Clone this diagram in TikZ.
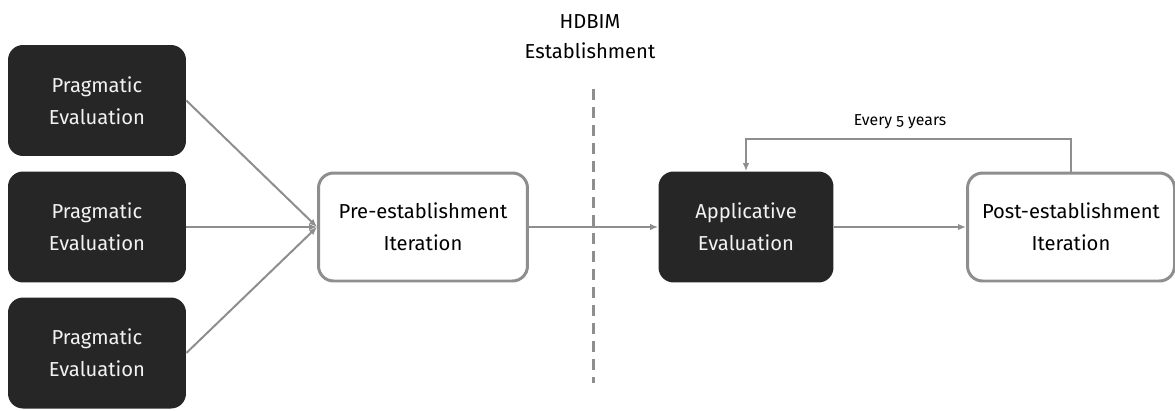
\documentclass[tikz,border=0pt]{standalone}
\usepackage{fontspec}
\setmainfont{Fira Sans}[Numbers=OldStyle]
\usetikzlibrary{arrows.meta}
\definecolor{boxdark}{HTML}{262626}
\definecolor{linegray}{HTML}{8E8E8E}
\definecolor{textlight}{HTML}{F2F2F2}
\tikzset{
	darkbox/.style={fill=boxdark, text=textlight, rounded corners=0.3cm, minimum width=3.56cm, minimum height=2.22cm, align=center, font=\fontsize{11.5}{18}\selectfont},
	lightbox/.style={draw=linegray, line width=0.06cm, fill=white, rounded corners=0.3cm, minimum height=2.16cm, align=center, font=\fontsize{11.5}{18}\selectfont},
	flow/.style={draw=linegray, line width=0.04cm, -{Latex[length=1.6mm,width=1.3mm]}},
	divider/.style={draw=linegray, line width=0.06cm, dash pattern=on 0.22cm off 0.14cm}
}

\begin{document}
\begin{tikzpicture}[x=0.02cm, y=-0.02cm]
			%%%%% START %%%%%
			\useasboundingbox (0, 0) rectangle (1175, 410);
			
			\node[darkbox] (prag1) at (97, 100.5) {Pragmatic\\Evaluation};
			\node[darkbox] (prag2) at (97, 227) {Pragmatic\\Evaluation};
			\node[darkbox] (prag3) at (97, 353) {Pragmatic\\Evaluation};
			
			\node[lightbox, minimum width=4.18cm] (pre) at (423, 227) {Pre-establishment\\Iteration};
			\node[darkbox, minimum width=3.5cm] (app) at (746, 227) {Applicative\\Evaluation};
			\node[lightbox, minimum width=4.14cm] (post) at (1071, 227) {Post-establishment\\Iteration};
			
			\node[font=\fontsize{11.5}{17}\selectfont, align=center] (hdbim) at (590, 37) {HDBIM\\Establishment};
			\coordinate (dashtop) at (593, 89);
			\coordinate (dashbot) at (593, 383);
			\draw[divider] (dashtop) -- (dashbot);
			
			\draw[flow] (prag1.east) -- (pre.west);
			\draw[flow] (prag2.east) -- (pre.west);
			\draw[flow] (prag3.east) -- (pre.west);
			\draw[flow] (pre.east) -- (app.west);
			\draw[flow] (app.east) -- (post.west);
			
			\coordinate (loop) at (900, 139);
			\node[font=\fontsize{9}{11}\selectfont] (every) at (900, 122) {Every 5 years};
			\draw[flow] (post.north) |- (loop) -| (app.north);
			
			%%%%% END %%%%%
\end{tikzpicture}
\end{document}
